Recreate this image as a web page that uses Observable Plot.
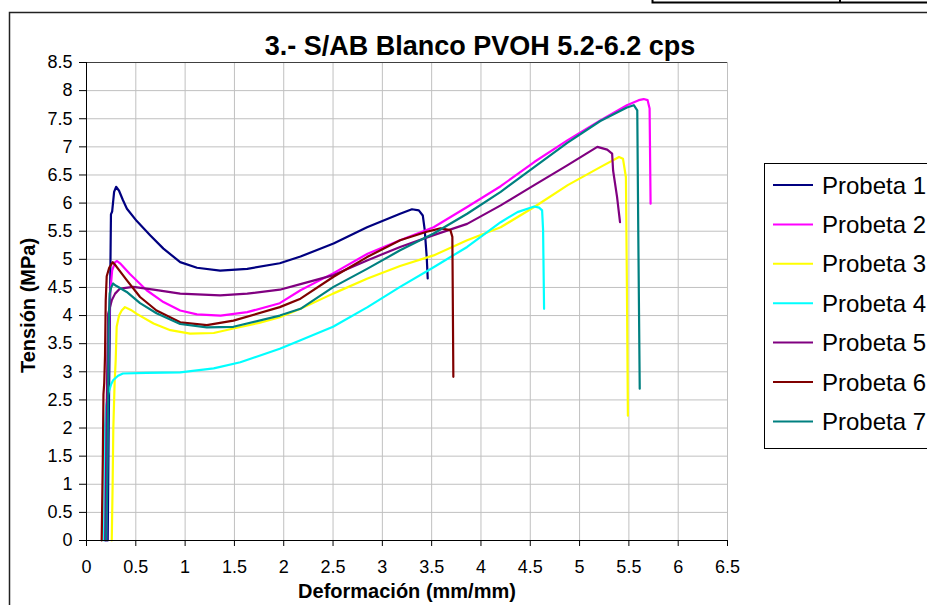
<!DOCTYPE html>
<html>
<head>
<meta charset="utf-8">
<script src="https://cdn.jsdelivr.net/npm/d3@7"></script>
<script src="https://cdn.jsdelivr.net/npm/@observablehq/plot@0.6"></script>
<style>
  html, body { margin: 0; padding: 0; background: #fff; overflow: hidden; }
  #wrap { position: relative; width: 927px; height: 605px; overflow: hidden; font-family: "Liberation Sans", Arial, sans-serif; }
  #wrap svg { position: absolute; left: 0; top: 0; }
</style>
</head>
<body>
<div id="wrap"></div>
<script>
// Tensile curves: stress (MPa) vs strain (mm/mm) for seven specimens
const titleText = "3.- S/AB Blanco PVOH 5.2-6.2 cps";
const xLabel = "Deformación (mm/mm)";
const yLabel = "Tensión (MPa)";

const probetas = ["Probeta 1", "Probeta 2", "Probeta 3", "Probeta 4", "Probeta 5", "Probeta 6", "Probeta 7"];
const colores = ["#000080", "#FF00FF", "#FFFF00", "#00FFFF", "#800080", "#800000", "#008080"];

const xTicks = [0, 0.5, 1, 1.5, 2, 2.5, 3, 3.5, 4, 4.5, 5, 5.5, 6, 6.5];
const yTicks = [0, 0.5, 1, 1.5, 2, 2.5, 3, 3.5, 4, 4.5, 5, 5.5, 6, 6.5, 7, 7.5, 8, 8.5];

// Probeta 1
const def1 = [0.215, 0.225, 0.235, 0.242, 0.248, 0.26, 0.28, 0.30, 0.33, 0.37, 0.41, 0.51, 0.645, 0.78, 0.95, 1.12, 1.355, 1.63, 1.96, 2.17, 2.505, 2.845, 3.18, 3.30, 3.37, 3.41, 3.43, 3.45, 3.46];
const ten1 = [0, 2.0, 3.6, 4.8, 5.8, 5.85, 6.2, 6.29, 6.22, 6.05, 5.9, 5.68, 5.43, 5.19, 4.95, 4.85, 4.80, 4.83, 4.93, 5.05, 5.28, 5.57, 5.81, 5.89, 5.87, 5.78, 5.52, 5.04, 4.66];
// Probeta 2
const def2 = [0.20, 0.215, 0.235, 0.26, 0.29, 0.31, 0.34, 0.44, 0.61, 0.78, 0.95, 1.12, 1.36, 1.63, 1.96, 2.17, 2.5, 2.85, 3.18, 3.52, 3.86, 4.2, 4.54, 4.88, 5.21, 5.48, 5.6, 5.65, 5.69, 5.71, 5.72];
const ten2 = [0, 2.5, 4.3, 4.8, 4.95, 4.97, 4.93, 4.74, 4.45, 4.24, 4.09, 4.02, 4.0, 4.06, 4.22, 4.45, 4.75, 5.1, 5.34, 5.57, 5.93, 6.3, 6.73, 7.12, 7.47, 7.74, 7.83, 7.85, 7.83, 7.68, 5.99];
// Probeta 3
const def3 = [0.256, 0.265, 0.272, 0.285, 0.296, 0.306, 0.33, 0.357, 0.39, 0.45, 0.51, 0.68, 0.85, 1.05, 1.29, 1.49, 1.75, 1.96, 2.17, 2.5, 2.85, 3.18, 3.52, 3.86, 4.2, 4.54, 4.88, 5.21, 5.4, 5.44, 5.47, 5.48, 5.49];
const ten3 = [0, 1.0, 2.0, 2.8, 3.2, 3.8, 4.0, 4.09, 4.15, 4.1, 4.03, 3.86, 3.74, 3.68, 3.69, 3.77, 3.87, 3.97, 4.12, 4.39, 4.66, 4.88, 5.07, 5.34, 5.57, 5.93, 6.32, 6.64, 6.82, 6.79, 6.46, 4.51, 2.22];
// Probeta 4
const def4 = [0.178, 0.183, 0.188, 0.2, 0.22, 0.25, 0.27, 0.32, 0.37, 0.61, 0.95, 1.29, 1.56, 1.96, 2.17, 2.5, 2.85, 3.18, 3.52, 3.86, 4.2, 4.37, 4.54, 4.59, 4.62, 4.63, 4.64];
const ten4 = [0, 1.0, 2.02, 2.4, 2.61, 2.78, 2.85, 2.93, 2.97, 2.98, 2.99, 3.06, 3.17, 3.41, 3.56, 3.80, 4.15, 4.51, 4.86, 5.22, 5.66, 5.84, 5.94, 5.92, 5.87, 5.52, 4.12];
// Probeta 5
const def5 = [0.19, 0.2, 0.21, 0.22, 0.256, 0.29, 0.34, 0.475, 0.68, 0.95, 1.355, 1.63, 1.96, 2.17, 2.505, 2.845, 3.18, 3.52, 3.86, 4.2, 4.54, 4.875, 5.18, 5.28, 5.33, 5.34, 5.38, 5.41];
const ten5 = [0, 1.5, 3.0, 4.03, 4.27, 4.39, 4.48, 4.51, 4.46, 4.39, 4.36, 4.39, 4.46, 4.56, 4.72, 4.98, 5.22, 5.43, 5.63, 5.96, 6.32, 6.67, 7.0, 6.95, 6.88, 6.58, 6.11, 5.66];
// Probeta 6
const def6 = [0.154, 0.165, 0.172, 0.18, 0.188, 0.195, 0.205, 0.23, 0.266, 0.3, 0.408, 0.543, 0.71, 0.95, 1.22, 1.49, 1.96, 2.17, 2.505, 2.845, 3.18, 3.45, 3.59, 3.69, 3.71, 3.72];
const ten6 = [0, 1.4, 2.6, 2.8, 3.3, 4.27, 4.7, 4.85, 4.95, 4.88, 4.63, 4.33, 4.09, 3.88, 3.83, 3.91, 4.15, 4.30, 4.69, 5.04, 5.34, 5.49, 5.55, 5.52, 5.40, 2.91];
// Probeta 7
const def7 = [0.2, 0.21, 0.22, 0.225, 0.235, 0.25, 0.27, 0.3, 0.408, 0.543, 0.71, 0.95, 1.22, 1.49, 1.96, 2.17, 2.505, 2.845, 3.18, 3.52, 3.86, 4.2, 4.54, 4.875, 5.21, 5.48, 5.55, 5.585, 5.595, 5.61];
const ten7 = [0, 1.0, 2.5, 3.8, 4.39, 4.5, 4.57, 4.53, 4.42, 4.22, 4.04, 3.85, 3.79, 3.80, 4.0, 4.12, 4.51, 4.83, 5.16, 5.46, 5.81, 6.2, 6.64, 7.07, 7.46, 7.70, 7.74, 7.65, 5.52, 2.70];

const deformaciones = [def1, def2, def3, def4, def5, def6, def7];
const tensiones = [ten1, ten2, ten3, ten4, ten5, ten6, ten7];

const filas = probetas.flatMap((p, i) =>
  deformaciones[i].map((d, j) => ({probeta: p, def: d, ten: tensiones[i][j]}))
);

const fmt = d => String(+d.toFixed(1));
const font = '"Liberation Sans", Arial, sans-serif';

const chart = Plot.plot({
  width: 927,
  height: 605,
  marginLeft: 86,
  marginRight: 200,
  marginTop: 62,
  marginBottom: 65,
  style: {fontFamily: font, fontSize: "18px", background: "transparent", color: "#000"},
  x: {domain: [0, 6.5], ticks: xTicks, tickFormat: fmt, tickSize: 6, tickPadding: 14, label: null, line: true},
  y: {domain: [0, 8.5], ticks: yTicks, tickFormat: fmt, tickSize: 7, tickPadding: 7, label: null, line: true},
  color: {domain: probetas, range: colores},
  marks: [
    Plot.ruleX(xTicks.slice(1), {stroke: "#c0c0c0", strokeWidth: 1}),
    Plot.ruleY(yTicks.slice(1), {stroke: "#c0c0c0", strokeWidth: 1}),
    Plot.ruleY([yTicks[yTicks.length - 1]], {stroke: "#404040", strokeWidth: 1}),
    Plot.line(filas, {x: "def", y: "ten", z: "probeta", stroke: "probeta", strokeWidth: 2.2, strokeLinejoin: "round"}),
    Plot.ruleX([0], {stroke: "#000"}),
    Plot.ruleY([0], {stroke: "#000"}),
    Plot.text([xLabel], {frameAnchor: "bottom", dy: 57, fontWeight: "bold", fontSize: 20, fill: "#000"}),
    Plot.text([yLabel], {frameAnchor: "left", textAnchor: "middle", lineAnchor: "middle", dx: -58, dy: 4, rotate: -90, fontWeight: "bold", fontSize: 20, fill: "#000"})
  ]
});

const wrap = document.getElementById("wrap");
wrap.appendChild(chart);

// Decorations drawn over the plot: chart border, title, legend
const ov = d3.select(wrap).append("svg")
  .attr("width", 927).attr("height", 605)
  .style("font-family", font);

// cell edges of the table above the chart
ov.append("path")
  .attr("d", "M652.5,-2V2.5H930M840,-2V2.5")
  .attr("fill", "none").attr("stroke", "#000").attr("stroke-width", 2);

// chart area border
ov.append("rect")
  .attr("x", 9.5).attr("y", 12.5).attr("width", 1000).attr("height", 800)
  .attr("fill", "none").attr("stroke", "#222").attr("stroke-width", 1.5);

ov.append("text")
  .attr("x", 480).attr("y", 55)
  .attr("text-anchor", "middle")
  .attr("font-weight", "bold").attr("font-size", 27)
  .text(titleText);

const lg = ov.append("g");
lg.append("rect")
  .attr("x", 764.5).attr("y", 163.5).attr("width", 300).attr("height", 285)
  .attr("fill", "#fff").attr("stroke", "#000").attr("stroke-width", 1);
probetas.forEach((p, i) => {
  const cy = 185 + i * 39.4;
  lg.append("line")
    .attr("x1", 773).attr("x2", 813).attr("y1", cy).attr("y2", cy)
    .attr("stroke", colores[i]).attr("stroke-width", 2);
  lg.append("text")
    .attr("x", 822).attr("y", cy + 8.5)
    .attr("font-size", 24)
    .text(p);
});
</script>
</body>
</html>
